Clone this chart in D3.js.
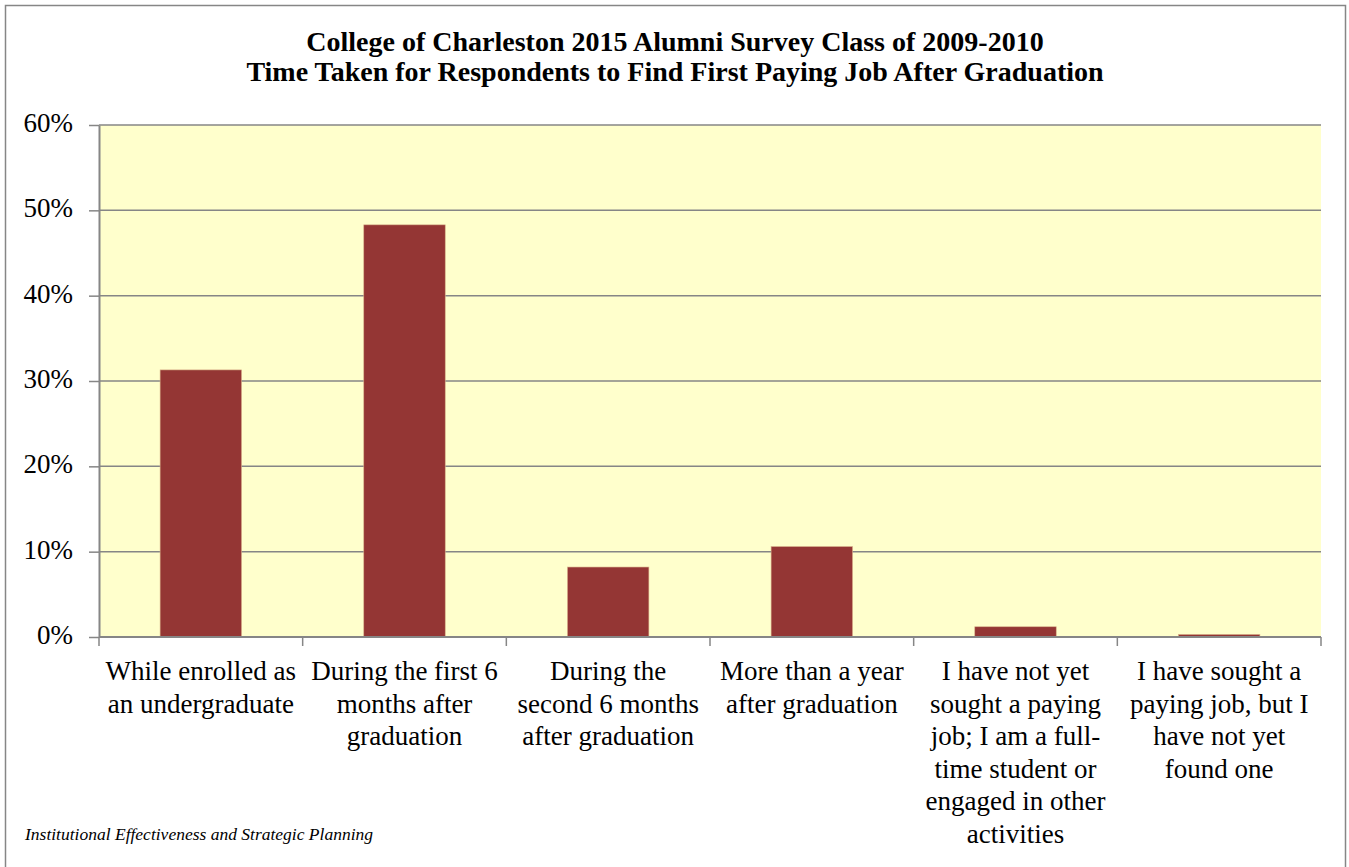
<!DOCTYPE html>
<html><head><meta charset="utf-8">
<script src="https://cdn.jsdelivr.net/npm/d3@7/dist/d3.min.js"></script>
<style>body{margin:0;background:#fff}svg{display:block}</style>
</head><body>
<script>
const titleLines = ["College of Charleston 2015 Alumni Survey Class of 2009-2010",
  "Time Taken for Respondents to Find First Paying Job After Graduation"];
const categories = ["While enrolled as an undergraduate",
  "During the first 6 months after graduation",
  "During the second 6 months after graduation",
  "More than a year after graduation",
  "I have not yet sought a paying job; I am a full-time student or engaged in other activities",
  "I have sought a paying job, but I have not yet found one"];
const categoryLines = [
  ["While enrolled as","an undergraduate"],
  ["During the first 6","months after","graduation"],
  ["During the","second 6 months","after graduation"],
  ["More than a year","after graduation"],
  ["I have not yet","sought a paying","job; I am a full-","time student or","engaged in other","activities"],
  ["I have sought a","paying job, but I","have not yet","found one"]];
const values = [0.313, 0.483, 0.082, 0.106, 0.012, 0.003];
const yTicks = [0, 0.1, 0.2, 0.3, 0.4, 0.5, 0.6];
const footer = "Institutional Effectiveness and Strategic Planning";

const W = 1349, H = 867;
const svg = d3.select("body").append("svg").attr("width", W).attr("height", H);
const serif = '"Liberation Serif"';

svg.append("rect").attr("x",5.5).attr("y",5.5).attr("width",1340).attr("height",900)
  .attr("fill","#fff").attr("stroke","#868686").attr("stroke-width",1.5);

const L = 99, R = 1321, T = 125, B = 637;
const x = d3.scaleBand().domain(categories).range([L, R]).paddingInner(0.6).paddingOuter(0.3);
const y = d3.scaleLinear().domain([0, 0.6]).range([B, T]);

svg.append("rect").attr("x",L).attr("y",T).attr("width",R-L).attr("height",B-T).attr("fill","#FFFFCC");

// gridlines
svg.append("g").selectAll("line").data(yTicks.filter(d=>d>0)).join("line")
  .attr("x1",L).attr("x2",R).attr("y1",d=>y(d)).attr("y2",d=>y(d))
  .attr("stroke","#868686").attr("stroke-width",1.5);

// bars
svg.append("g").selectAll("rect").data(values).join("rect")
  .attr("x",(d,i)=>x(categories[i])).attr("width",x.bandwidth())
  .attr("y",d=>y(d)).attr("height",d=>B-y(d))
  .attr("fill","#943634").attr("stroke","#D9B38C").attr("stroke-width",0.6);

// y axis
const yAxis = d3.axisLeft(y).tickValues(yTicks).tickFormat(d3.format(".0%")).tickSize(10).tickSizeOuter(0).tickPadding(16);
const gy = svg.append("g").attr("transform",`translate(${L},0)`).call(yAxis);
gy.select(".domain").attr("stroke","#868686").attr("stroke-width",2);
gy.selectAll(".tick line").attr("stroke","#868686").attr("stroke-width",1.5);
gy.selectAll(".tick text").style("font-family",serif).style("font-size","27px").attr("fill","#000").attr("dy","0.24em");

// x axis
const xb = d3.scaleLinear().domain([0, categories.length]).range([L, R]);
const gx = svg.append("g").attr("transform",`translate(0,${B})`);
gx.append("line").attr("x1",L).attr("x2",R).attr("stroke","#868686").attr("stroke-width",2);
gx.selectAll("line.t").data(d3.range(categories.length+1)).join("line").attr("class","t")
  .attr("x1",d=>xb(d)).attr("x2",d=>xb(d)).attr("y1",0).attr("y2",9)
  .attr("stroke","#868686").attr("stroke-width",1.5);
const lbl = gx.selectAll("text.c").data(categoryLines).join("text").attr("class","c")
  .attr("text-anchor","middle").style("font-family",serif).style("font-size","27px").attr("fill","#000")
  .attr("transform",(d,i)=>`translate(${x(categories[i])+x.bandwidth()/2},0)`);
lbl.selectAll("tspan").data(d=>d).join("tspan").attr("x",0).attr("y",(d,j)=>43+j*32.5).text(d=>d);

// title
svg.append("text").attr("text-anchor","middle").style("font-family",serif).style("font-weight","bold")
  .style("font-size","28px").attr("fill","#000")
  .selectAll("tspan").data(titleLines).join("tspan").attr("x",675).attr("y",(d,i)=>51+i*30).text(d=>d);

svg.append("text").attr("x",25).attr("y",840).style("font-family",serif).style("font-style","italic")
  .style("font-size","17.5px").attr("fill","#000").text(footer);
</script>
</body></html>
